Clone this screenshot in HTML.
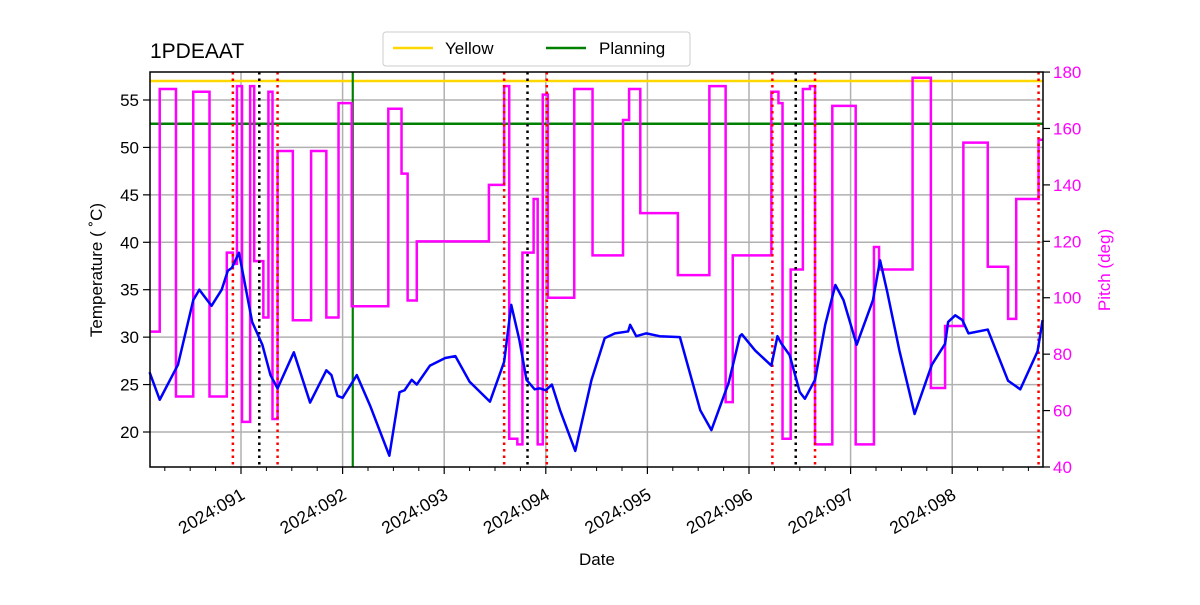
<!DOCTYPE html>
<html><head><meta charset="utf-8"><style>
body{margin:0;background:#fff;}
svg{font-family:"Liberation Sans","DejaVu Sans",sans-serif;}
</style></head><body>
<svg id="chart" width="1200" height="600" viewBox="0 0 1200 600" xmlns="http://www.w3.org/2000/svg">
<rect width="1200" height="600" fill="#fff"/>
<g id="grid"></g>
<g id="refs"></g>
<g id="series"></g>
<rect x="150" y="72" width="893" height="395" fill="none" stroke="#000" stroke-width="1.5"/>
<g id="axes"></g>
<text x="150" y="58" font-size="21">1PDEAAT</text>
<text x="597" y="565" font-size="17" text-anchor="middle">Date</text>
<text transform="translate(102,270) rotate(-90)" font-size="17" text-anchor="middle">Temperature ( ˚C)</text>
<text transform="translate(1110,270) rotate(-90)" font-size="17" text-anchor="middle" fill="#ff00ff">Pitch (deg)</text>
<g>
<rect x="383" y="32" width="307" height="34" rx="3" fill="#fff" stroke="#ccc"/>
<line x1="393" y1="48" x2="433" y2="48" stroke="#ffd700" stroke-width="2.5"/>
<text x="445" y="54" font-size="17">Yellow</text>
<line x1="546" y1="48" x2="586" y2="48" stroke="#008000" stroke-width="2.5"/>
<text x="599" y="54" font-size="17">Planning</text>
</g>
</svg>
<script>
const tempDays=[90.10,90.20,90.38,90.53,90.59,90.71,90.81,90.87,90.91,90.98,91.11,91.21,91.29,91.36,91.52,91.68,91.84,91.89,91.95,92.00,92.14,92.27,92.46,92.56,92.61,92.68,92.73,92.86,93.01,93.11,93.25,93.45,93.59,93.66,93.74,93.81,93.89,93.94,94.00,94.06,94.14,94.29,94.45,94.58,94.68,94.81,94.83,94.89,94.99,95.12,95.32,95.52,95.63,95.80,95.91,95.93,96.06,96.22,96.28,96.32,96.40,96.50,96.55,96.65,96.75,96.85,96.93,97.06,97.22,97.29,97.36,97.48,97.63,97.80,97.93,97.96,98.03,98.10,98.16,98.35,98.55,98.67,98.84,98.89];
const tempValues=[26.3,23.4,27.1,33.9,35.0,33.3,35.0,37.0,37.3,38.9,31.6,29.2,26.0,24.6,28.4,23.1,26.5,26.0,23.8,23.6,26.0,22.8,17.5,24.2,24.4,25.5,25.0,27.0,27.8,28.0,25.3,23.2,27.4,33.4,29.7,25.5,24.5,24.6,24.4,25.0,22.3,18.0,25.5,29.9,30.4,30.6,31.3,30.1,30.4,30.1,30.0,22.3,20.2,25.2,30.1,30.3,28.6,27.0,30.1,29.3,28.1,24.2,23.5,25.5,31.3,35.5,33.9,29.2,33.9,38.1,34.8,28.6,21.9,27.1,29.3,31.6,32.3,31.8,30.4,30.8,25.4,24.5,28.5,31.8];
const pitchDays=[90.10,90.20,90.36,90.53,90.69,90.86,90.92,90.96,91.01,91.09,91.13,91.22,91.27,91.31,91.36,91.51,91.69,91.84,91.96,92.09,92.45,92.58,92.64,92.73,93.44,93.59,93.64,93.72,93.77,93.88,93.92,93.97,94.02,94.28,94.46,94.76,94.82,94.93,95.30,95.61,95.77,95.84,96.22,96.29,96.33,96.41,96.53,96.60,96.65,96.82,97.05,97.23,97.28,97.61,97.79,97.93,98.11,98.35,98.55,98.63,98.85];
const pitchValues=[88,174,65,173,65,116,112,175,56,175,113,93,173,57,152,92,152,93,169,97,167,144,99,120,140,175,50,48,116,135,48,172,100,174,115,163,174,130,108,175,63,115,173,169,50,110,174,175,48,168,48,118,110,178,68,90,155,111,92.5,135,156];
const pitchEnd=98.89;
const yTicks=[20,25,30,35,40,45,50,55];
const y2Ticks=[40,60,80,100,120,140,160,180];
const xTickDays=[91,92,93,94,95,96,97,98];
const xTickLabels=["2024:091","2024:092","2024:093","2024:094","2024:095","2024:096","2024:097","2024:098"];
const redDays=[90.92,91.36,93.59,94.01,96.23,96.65,98.85];
const blackDays=[91.18,93.82,96.46];
const planningDay=92.10;
const yellowLimit=57.0;
const planningLimit=52.5;

const NS="http://www.w3.org/2000/svg";
const X=d=>241+(d-91)*101.6;
const Y=t=>432-(t-20)*9.486;
const Y2=p=>467-(p-40)*2.821;
function mk(tag,attrs,parent){const e=document.createElementNS(NS,tag);for(const k in attrs)e.setAttribute(k,attrs[k]);parent.appendChild(e);return e;}
const grid=document.getElementById('grid'),refs=document.getElementById('refs'),series=document.getElementById('series'),axes=document.getElementById('axes');

xTickDays.forEach((d,i)=>{
  const g=mk('line',{x1:X(d),x2:X(d),y1:72,y2:467,stroke:'#b0b0b0','stroke-width':1.5},grid);
  
  
  const t=mk('line',{x1:X(d),x2:X(d),y1:467,y2:474,stroke:'#000','stroke-width':1.2},axes);
  
  
  const lb=mk('text',{transform:`translate(${X(d)+5},${498}) rotate(-30)`,'text-anchor':'end','font-size':17.5},axes);
  lb.textContent=xTickLabels[i];
  
  
});
for(let d=90.25;d<98.9;d+=0.25){
  if(Math.abs(d-Math.round(d))<0.01)continue;
  const m=mk('line',{x1:X(d),x2:X(d),y1:467,y2:471,stroke:'#000','stroke-width':1},axes);
  
  
}
yTicks.forEach(v=>{
  const g=mk('line',{x1:150,x2:1043,y1:Y(v),y2:Y(v),stroke:'#b0b0b0','stroke-width':1.5},grid);
  
  
  const t=mk('line',{x1:143,x2:150,y1:Y(v),y2:Y(v),stroke:'#000','stroke-width':1.2},axes);
  
  
  const lb=mk('text',{x:139,y:Y(v)+6,'text-anchor':'end','font-size':17},axes);
  lb.textContent=v;
  
  
});
y2Ticks.forEach(v=>{
  const t=mk('line',{x1:1043,x2:1050,y1:Y2(v),y2:Y2(v),stroke:'#000','stroke-width':1.2},axes);
  
  
  const lb=mk('text',{x:1053,y:Y2(v)+6,'font-size':17,fill:'#ff00ff'},axes);
  lb.textContent=v;
  
  
});
let pd='';
pitchDays.forEach((d,i)=>{
  const x=X(d),y=Y2(pitchValues[i]);
  if(i===0)pd+=`M${x},${y}`;else pd+=`L${x},${Y2(pitchValues[i-1])}L${x},${y}`;
});
pd+=`L${X(pitchEnd)},${Y2(pitchValues[pitchValues.length-1])}`;
const pl=mk('path',{d:pd,fill:'none',stroke:'#ff00ff','stroke-width':2.5},series);


const yl=mk('line',{x1:150,x2:1043,y1:Y(yellowLimit),y2:Y(yellowLimit),stroke:'#ffd700','stroke-width':2.5},refs);


const gl=mk('line',{x1:150,x2:1043,y1:Y(planningLimit),y2:Y(planningLimit),stroke:'#008000','stroke-width':2.5},refs);


const gv=mk('line',{x1:X(planningDay),x2:X(planningDay),y1:72,y2:467,stroke:'#008000','stroke-width':2.2},refs);


redDays.forEach(d=>{
  const l=mk('line',{x1:X(d),x2:X(d),y1:72,y2:467,stroke:'#ff0000','stroke-width':2.5,'stroke-dasharray':'2.5,4'},series);
  
  
});
blackDays.forEach(d=>{
  const l=mk('line',{x1:X(d),x2:X(d),y1:72,y2:467,stroke:'#000','stroke-width':2.5,'stroke-dasharray':'2.5,4'},series);
  
  
});
const tp=tempDays.map((d,i)=>`${X(d)},${Y(tempValues[i])}`).join(' ');
const tl=mk('polyline',{points:tp,fill:'none',stroke:'#0000ff','stroke-width':2.5,'stroke-linejoin':'round'},series);


</script>
</body></html>
